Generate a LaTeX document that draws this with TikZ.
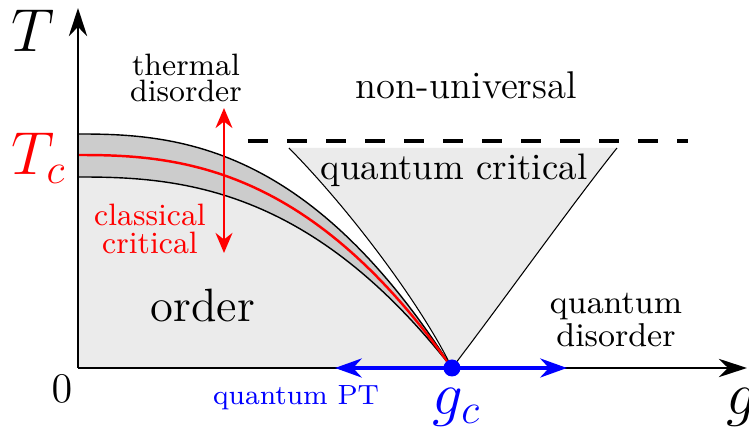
\documentclass[tikz,border=0pt]{standalone}
\usepackage{amsmath}
\usetikzlibrary{arrows.meta}

\begin{document}
\begin{tikzpicture}[
    declare function={bnd(\t,\x)=\t*(1-(\x/3.74)^2*sqrt(\x/3.74));},
    lbl/.style={align=center, inner sep=0pt},
    axisarr/.style={-{Stealth[length=8pt,width=5.2pt]}, line width=0.6pt},
    edge/.style={line width=0.4pt},
    qcedge/.style={line width=0.3pt},
    lightfill/.style={fill=black!8},
    bandfill/.style={fill=black!20},
    redarr/.style={{Stealth[length=5.7pt,width=4.8pt]}-{Stealth[length=5.7pt,width=4.8pt]}, red, line width=0.75pt},
    bluearr/.style={{Stealth[length=7.6pt,width=5.4pt]}-{Stealth[length=7.6pt,width=5.4pt]}, blue, line width=1.1pt}
]
\useasboundingbox (-0.78,-0.62) rectangle (6.71,3.68);

\coordinate (O)   at (0,0);
\coordinate (Ttip) at (0,3.60);
\coordinate (gtip) at (6.69,0);
\coordinate (gc)  at (3.74,0);
\coordinate (qcL) at (2.11,2.20);
\coordinate (qcR) at (5.39,2.20);
\coordinate (dashL) at (1.70,2.27);
\coordinate (dashR) at (6.10,2.27);
\coordinate (thlo) at (1.46,1.15);
\coordinate (thhi) at (1.46,2.60);
\coordinate (qptL) at (2.57,0);
\coordinate (qptR) at (4.89,0);

% regions
\fill[lightfill] (O) -- plot[domain=0:3.74, samples=60] (\x,{bnd(1.91,\x)}) -- cycle;
\fill[bandfill] plot[domain=0:3.74, samples=60] (\x,{bnd(2.34,\x)})
    -- plot[domain=3.74:0, samples=60] (\x,{bnd(1.91,\x)}) -- cycle;
\fill[lightfill] (gc) .. controls (3.45,0.60) and (2.75,1.55) .. (qcL)
    -- (qcR) .. controls (4.95,1.65) and (4.20,0.60) .. (gc);

% crossover lines
\draw[edge] plot[domain=0:3.74, samples=60] (\x,{bnd(2.34,\x)});
\draw[edge] plot[domain=0:3.74, samples=60] (\x,{bnd(1.91,\x)});
\draw[red, line width=0.7pt] plot[domain=0:3.74, samples=60] (\x,{bnd(2.13,\x)});
\draw[qcedge] (gc) .. controls (3.45,0.60) and (2.75,1.55) .. (qcL);
\draw[qcedge] (gc) .. controls (4.20,0.60) and (4.95,1.65) .. (qcR);
\draw[line width=0.9pt, dash pattern=on 5.7pt off 5.4pt] (dashL) -- (dashR);

% axes
\draw[axisarr] (O) -- (Ttip);
\draw[axisarr] (O) -- (gtip);

\draw[redarr] (thlo) -- (thhi);
\draw[bluearr] (qptL) -- (qptR);
\node[circle, fill=blue, inner sep=0pt, minimum size=0.17cm] (gcdot) at (gc) {};

% labels
\node[lbl, font=\LARGE] (Tlab) at (-0.45,3.37) {$T$};
\node[lbl, font=\LARGE, text=red] (Tclab) at (-0.39,2.10) {$T_c$};
\node[lbl, font=\large] (zero) at (-0.16,-0.21) {$0$};
\node[lbl, font=\LARGE] (glab) at (6.64,-0.39) {$g$};
\node[lbl, font=\LARGE, text=blue] (gclab) at (3.79,-0.39) {$g_c$};
\node[lbl, font=\fontsize{8.8}{7.6}\selectfont] (thermal) at (1.08,2.90) {thermal\\disorder};
\node[lbl, font=\fontsize{11}{13}\selectfont] (nonuni) at (3.885,2.83) {non-universal};
\node[lbl, font=\fontsize{10.5}{12}\selectfont] (qcrit) at (3.76,1.98) {quantum critical};
\node[lbl, font=\fontsize{8.8}{8}\selectfont, text=red] (classical) at (0.72,1.39) {classical\\critical};
\node[lbl, font=\fontsize{13.3}{15}\selectfont] (order) at (1.25,0.62) {order};
\node[lbl, font=\fontsize{9.4}{9.5}\selectfont] (qdis) at (5.38,0.48) {quantum\\disorder};
\node[lbl, font=\fontsize{7.9}{9}\selectfont, text=blue] (qpt) at (2.18,-0.30) {quantum PT};
\end{tikzpicture}
\end{document}
